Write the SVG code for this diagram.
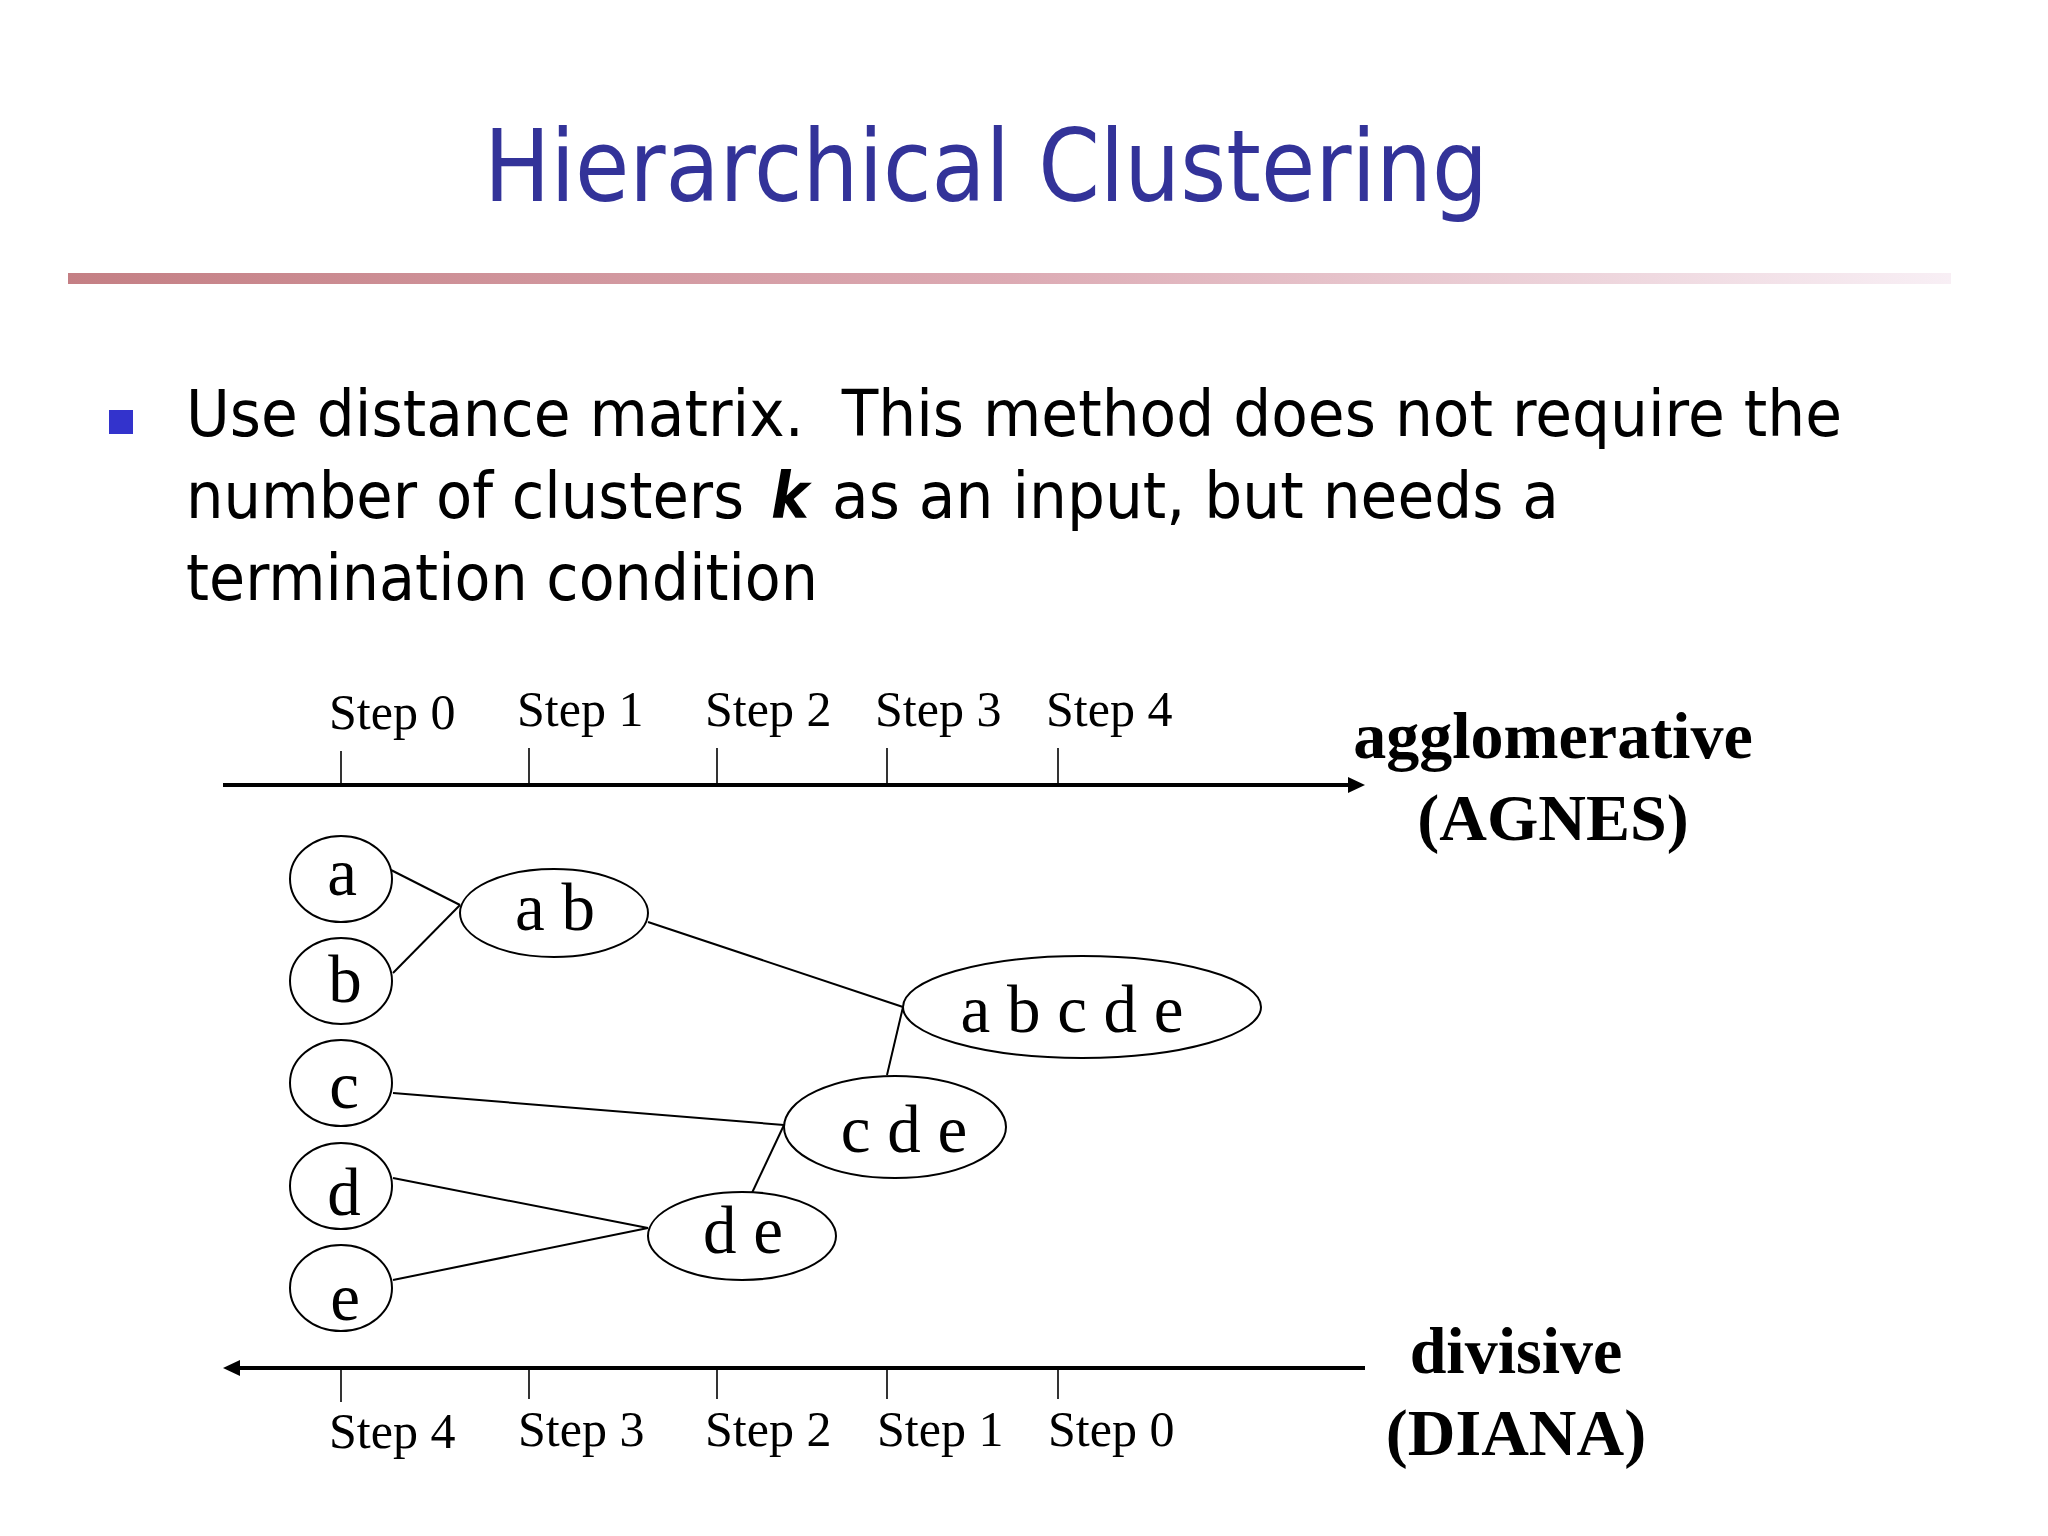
<svg xmlns="http://www.w3.org/2000/svg" width="2048" height="1536" viewBox="0 0 2048 1536">
<style>
.title{font-family:"DejaVu Sans","Liberation Sans",sans-serif;font-size:100px;fill:#333399}
.body{font-family:"DejaVu Sans","Liberation Sans",sans-serif;font-size:64px;fill:#000}
.step{font-family:"Liberation Serif","Times New Roman",serif;font-size:50px;fill:#000}
.big{font-family:"Liberation Serif","Times New Roman",serif;font-size:66px;font-weight:bold;fill:#000;text-anchor:middle}
.lbl{font-family:"Liberation Serif","Times New Roman",serif;font-size:67px;fill:#000;text-anchor:middle}
.node ellipse{fill:#fff;stroke:#000;stroke-width:2}
.tick{stroke:#000;stroke-width:1.6}
.axis{stroke:#000;stroke-width:4;fill:none}
#connectors line{stroke:#000;stroke-width:2}
</style>
<defs>
<linearGradient id="bar" x1="0" y1="0" x2="1" y2="0">
<stop offset="0" stop-color="#c47f84"/>
<stop offset="0.5" stop-color="#dcaab3"/>
<stop offset="1" stop-color="#f8eff5"/>
</linearGradient>
<marker id="ah" markerUnits="userSpaceOnUse" markerWidth="18" markerHeight="16" refX="2" refY="8" orient="auto">
<path d="M0,0 L17,8 L0,16 z" fill="#000"/>
</marker>
</defs>
<rect width="2048" height="1536" fill="#fff"/>

<text class="title" x="484" y="201" textLength="1004" lengthAdjust="spacingAndGlyphs">Hierarchical Clustering</text>
<rect x="68" y="273" width="1883" height="11" fill="url(#bar)"/>

<rect x="109" y="410" width="24" height="24" fill="#3333cc"/>
<text class="body" x="186" y="436" textLength="1656" lengthAdjust="spacingAndGlyphs" xml:space="preserve">Use distance matrix.  This method does not require the</text>
<text class="body" x="186" y="518" textLength="558" lengthAdjust="spacingAndGlyphs">number of clusters</text>
<text class="body" x="771" y="518" font-weight="bold" font-style="italic" textLength="38" lengthAdjust="spacingAndGlyphs">k</text>
<text class="body" x="832" y="518" textLength="727" lengthAdjust="spacingAndGlyphs">as an input, but needs a</text>
<text class="body" x="186" y="600" textLength="632" lengthAdjust="spacingAndGlyphs">termination condition</text>

<g id="top-axis">
<line class="axis" x1="223" y1="785" x2="1350" y2="785" marker-end="url(#ah)"/>
<line class="tick" x1="341" y1="751" x2="341" y2="785"/>
<line class="tick" x1="529" y1="748" x2="529" y2="785"/>
<line class="tick" x1="717" y1="748" x2="717" y2="785"/>
<line class="tick" x1="887" y1="748" x2="887" y2="785"/>
<line class="tick" x1="1058" y1="748" x2="1058" y2="785"/>
<text class="step" x="329" y="729">Step 0</text>
<text class="step" x="517" y="726">Step 1</text>
<text class="step" x="705" y="726">Step 2</text>
<text class="step" x="875" y="726">Step 3</text>
<text class="step" x="1046" y="726">Step 4</text>
<text class="big" x="1553" y="758">agglomerative</text>
<text class="big" x="1553" y="840">(AGNES)</text>
</g>

<g id="bottom-axis">
<line class="axis" x1="1365" y1="1368" x2="238" y2="1368" marker-end="url(#ah)"/>
<line class="tick" x1="341" y1="1368" x2="341" y2="1402"/>
<line class="tick" x1="529" y1="1368" x2="529" y2="1399"/>
<line class="tick" x1="717" y1="1368" x2="717" y2="1399"/>
<line class="tick" x1="887" y1="1368" x2="887" y2="1399"/>
<line class="tick" x1="1058" y1="1368" x2="1058" y2="1399"/>
<text class="step" x="329" y="1448">Step 4</text>
<text class="step" x="518" y="1446">Step 3</text>
<text class="step" x="705" y="1446">Step 2</text>
<text class="step" x="877" y="1446">Step 1</text>
<text class="step" x="1048" y="1446">Step 0</text>
<text class="big" x="1516" y="1373">divisive</text>
<text class="big" x="1516" y="1455">(DIANA)</text>
</g>

<g id="connectors">
<line x1="391" y1="870" x2="460" y2="905"/>
<line x1="393" y1="973" x2="460" y2="905"/>
<line x1="648" y1="922" x2="903" y2="1007"/>
<line x1="903" y1="1007" x2="887" y2="1075"/>
<line x1="393" y1="1093" x2="784" y2="1125"/>
<line x1="784" y1="1125" x2="751" y2="1195"/>
<line x1="393" y1="1178" x2="648" y2="1228"/>
<line x1="393" y1="1280" x2="648" y2="1228"/>
</g>

<g id="node-a" class="node"><ellipse cx="341" cy="879" rx="51" ry="43"/><text class="lbl" x="342" y="895">a</text></g>
<g id="node-b" class="node"><ellipse cx="341" cy="981" rx="51" ry="43"/><text class="lbl" x="345" y="1002">b</text></g>
<g id="node-c" class="node"><ellipse cx="341" cy="1083" rx="51" ry="43"/><text class="lbl" x="344" y="1108">c</text></g>
<g id="node-d" class="node"><ellipse cx="341" cy="1186" rx="51" ry="43"/><text class="lbl" x="344" y="1215">d</text></g>
<g id="node-e" class="node"><ellipse cx="341" cy="1288" rx="51" ry="43"/><text class="lbl" x="345" y="1320">e</text></g>
<g id="node-ab" class="node"><ellipse cx="554" cy="913" rx="94" ry="44"/><text class="lbl" x="555" y="930">a b</text></g>
<g id="node-abcde" class="node"><ellipse cx="1082" cy="1007" rx="179" ry="51"/><text class="lbl" x="1072" y="1032">a b c d e</text></g>
<g id="node-cde" class="node"><ellipse cx="895" cy="1127" rx="111" ry="51"/><text class="lbl" x="904" y="1152">c d e</text></g>
<g id="node-de" class="node"><ellipse cx="742" cy="1236" rx="94" ry="44"/><text class="lbl" x="743" y="1253">d e</text></g>
</svg>
